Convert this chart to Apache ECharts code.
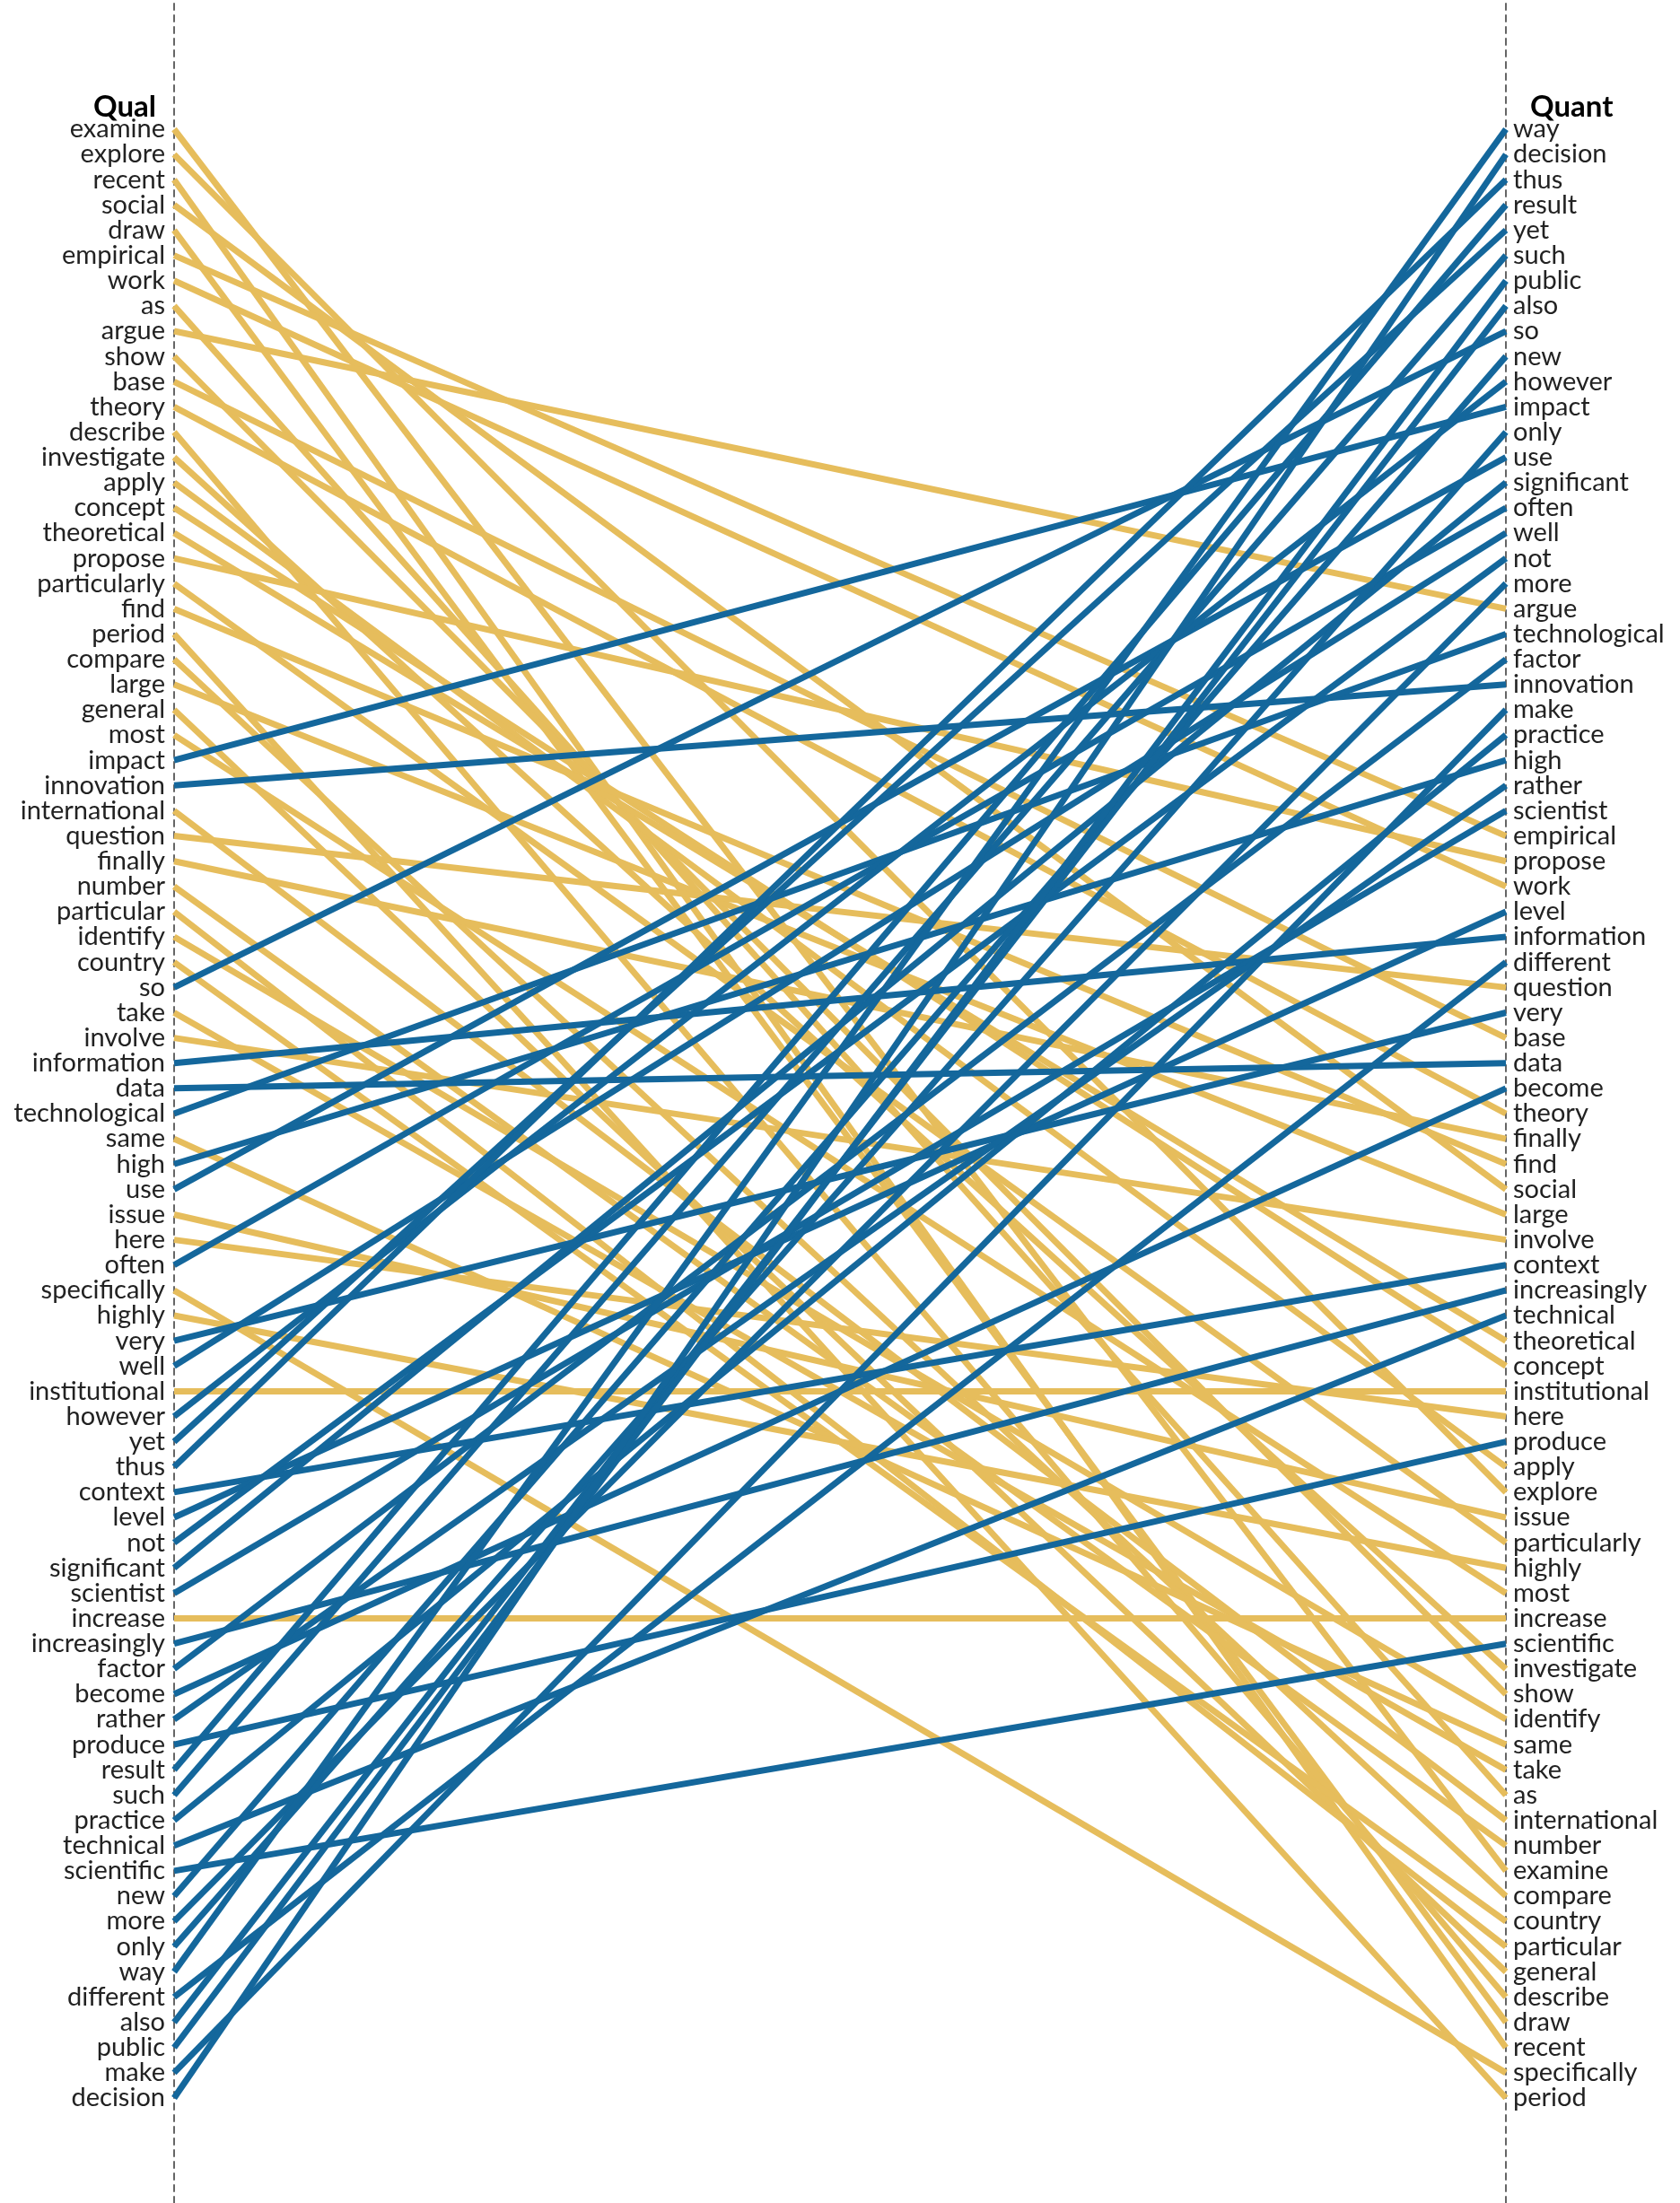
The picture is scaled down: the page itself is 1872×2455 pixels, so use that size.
<!DOCTYPE html>
<html>
<head>
<meta charset="utf-8">
<script src="https://cdn.jsdelivr.net/npm/echarts@6/dist/echarts.min.js"></script>
<style>html,body{margin:0;padding:0;background:#fff}#c{width:1872px;height:2455px}</style>
</head>
<body>
<div id="c"></div>
<script>
// Word ranks in the Qual list (top to bottom)
const qualWords = ["examine","explore","recent","social","draw","empirical","work","as","argue","show","base","theory","describe","investigate","apply","concept","theoretical","propose","particularly","find","period","compare","large","general","most","impact","innovation","international","question","finally","number","particular","identify","country","so","take","involve","information","data","technological","same","high","use","issue","here","often","specifically","highly","very","well","institutional","however","yet","thus","context","level","not","significant","scientist","increase","increasingly","factor","become","rather","produce","result","such","practice","technical","scientific","new","more","only","way","different","also","public","make","decision"];
// Word ranks in the Quant list (top to bottom)
const quantWords = ["way","decision","thus","result","yet","such","public","also","so","new","however","impact","only","use","significant","often","well","not","more","argue","technological","factor","innovation","make","practice","high","rather","scientist","empirical","propose","work","level","information","different","question","very","base","data","become","theory","finally","find","social","large","involve","context","increasingly","technical","theoretical","concept","institutional","here","produce","apply","explore","issue","particularly","highly","most","increase","scientific","investigate","show","identify","same","take","as","international","number","examine","compare","country","particular","general","describe","draw","recent","specifically","period"];
const colTitles = ["Qual","Quant"];

const GOLD = '#E6BD5C', BLUE = '#14679C';
const FONT = 'Lato';

const gold = [], blue = [];
qualWords.forEach((w, li) => {
  const ri = quantWords.indexOf(w);
  const s = {
    type: 'line', xAxisIndex: 0, yAxisIndex: 0,
    data: [[0, li], [1, ri]],
    symbol: 'none', silent: true, animation: false,
    lineStyle: { width: 7, color: ri < li ? BLUE : GOLD, cap: 'butt' },
    z: ri < li ? 3 : 2
  };
  (ri < li ? blue : gold).push(s);
});

const chart = echarts.init(document.getElementById('c'), null, {renderer: 'canvas'});
chart.setOption({
  animation: false,
  backgroundColor: '#fff',
  title: [
    { text: colTitles[0], right: 1693, top: 98, textStyle: { fontFamily: FONT, fontWeight: 'bold', fontSize: 33, color: '#000' } },
    { text: colTitles[1], left: 1700, top: 98, textStyle: { fontFamily: FONT, fontWeight: 'bold', fontSize: 33, color: '#000' } }
  ],
  grid: [
    { left: 194, right: 194, top: 144, bottom: 117 },
    { left: 194, right: 194, top: 0, bottom: 0 }
  ],
  xAxis: [
    { gridIndex: 0, type: 'value', min: 0, max: 1, show: false },
    { gridIndex: 1, type: 'value', min: 0, max: 1, show: false }
  ],
  yAxis: [
    { gridIndex: 0, type: 'category', data: qualWords, inverse: true, boundaryGap: false, position: 'left',
      axisLine: { show: false }, axisTick: { show: false }, splitLine: { show: false },
      axisLabel: { interval: 0, margin: 10, fontFamily: FONT, fontSize: 29, color: '#222' } },
    { gridIndex: 0, type: 'category', data: quantWords, inverse: true, boundaryGap: false, position: 'right',
      axisLine: { show: false }, axisTick: { show: false }, splitLine: { show: false },
      axisLabel: { interval: 0, margin: 8, fontFamily: FONT, fontSize: 29, color: '#222' } },
    { gridIndex: 1, type: 'value', position: 'left', axisLabel: { show: false }, axisTick: { show: false }, splitLine: { show: false },
      axisLine: { show: true, lineStyle: { color: '#666', width: 2, type: [7, 6] } } },
    { gridIndex: 1, type: 'value', position: 'right', axisLabel: { show: false }, axisTick: { show: false }, splitLine: { show: false },
      axisLine: { show: true, lineStyle: { color: '#666', width: 2, type: [7, 6] } } }
  ],
  series: gold.concat(blue)
});
</script>
</body>
</html>
